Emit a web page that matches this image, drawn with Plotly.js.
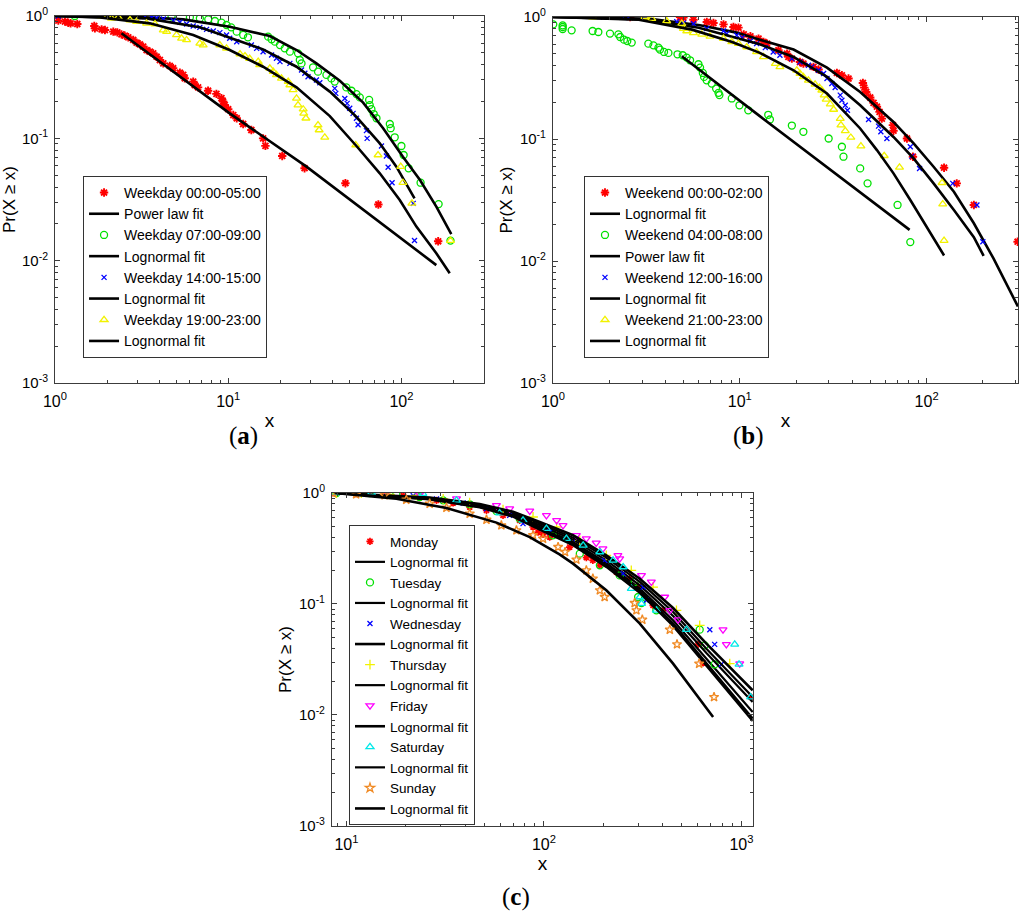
<!DOCTYPE html>
<html>
<head>
<meta charset="utf-8">
<script src="https://cdn.plot.ly/plotly-3.0.1.min.js"></script>
<style>
  html, body { margin: 0; padding: 0; background: #fff; }
  #chart { width: 1024px; height: 915px; }
</style>
</head>
<body>
<div id="chart"></div>
<script>
// Tick labels
const yTickVals = [0.001, 0.01, 0.1, 1];
const yTickText = ['10<sup>-3</sup>', '10<sup>-2</sup>', '10<sup>-1</sup>', '10<sup>0</sup>'];
const xTickValsAB = [1, 10, 100];
const xTickTextAB = ['10<sup>0</sup>', '10<sup>1</sup>', '10<sup>2</sup>'];
const xTickValsC = [10, 100, 1000];
const xTickTextC = ['10<sup>1</sup>', '10<sup>2</sup>', '10<sup>3</sup>'];

// (a) weekday time slots
const wd0005X = [1.045,1.142,1.194,1.231,1.345,1.686,1.70,1.858,1.943,2.17,2.29,2.42,2.53,2.65,2.83,2.96,3.09,3.23,3.38,3.53,3.69,3.86,4.03,4.22,4.60,4.81,5.26,5.50,5.61,6.28,6.41,6.70,7.65,8.55,9.14,9.34,9.55,10.0,10.7,11.2,12.2,13.6,15.9,16.4,20.5,27.6,47.5,73.6,163];
const wd0005Y = [0.916,0.899,0.882,0.871,0.860,0.829,0.793,0.778,0.768,0.745,0.735,0.708,0.691,0.670,0.637,0.605,0.587,0.562,0.527,0.511,0.495,0.465,0.437,0.410,0.391,0.374,0.344,0.330,0.310,0.291,0.273,0.261,0.245,0.231,0.213,0.200,0.1875,0.173,0.155,0.146,0.131,0.117,0.100,0.0868,0.0718,0.057,0.043,0.0288,0.0144];
const wd0005FitX = [2.42, 10.2, 28.3, 159];
const wd0005FitY = [0.722, 0.160, 0.0587, 0.0092];

const wd0709X = [1.30,4.71,6.01,6.86,7.67,8.38,9.15,9.78,10.4,11.2,12.2,13.0,17.0,17.8,18.6,19.9,21.2,22.7,25.3,25.9,26.5,30.9,33.0,36.9,39.4,41.2,48.1,51.5,55.0,57.5,65.1,65.6,67.1,69.2,71.8,85.7,86.7,91.5,100,103,110,129,164,192];
const wd0709Y = [1.0,0.988,0.975,0.957,0.939,0.910,0.882,0.844,0.808,0.745,0.70,0.67,0.678,0.645,0.617,0.579,0.544,0.511,0.495,0.437,0.410,0.381,0.351,0.330,0.309,0.291,0.261,0.245,0.230,0.216,0.206,0.187,0.173,0.158,0.146,0.131,0.121,0.102,0.0866,0.0731,0.0569,0.0434,0.029,0.0146];
const wd0709FitX = [1,2.83,5.50,10.2,17.4,24.8,32.3,44.1,60.1,78.4,102,128,159,194];
const wd0709FitY = [1,0.988,0.939,0.818,0.686,0.527,0.410,0.296,0.196,0.121,0.0708,0.0457,0.0277,0.0165];

const wd1415X = [1.045,3.31,3.61,3.86,4.22,4.82,5.26,5.75,6.28,6.86,7.50,8.20,8.95,9.78,10.2,11.2,13.6,14.6,15.9,17.8,19.0,19.9,22.7,26.5,27.7,28.9,32.3,33.8,41.2,41.8,47.1,48.6,50.3,52.6,55.0,56.2,62.8,63.4,76.7,81.9,83.8,88.3,117,119];
const wd1415Y = [1.0,0.988,0.975,0.963,0.945,0.916,0.888,0.860,0.829,0.808,0.778,0.754,0.731,0.70,0.657,0.617,0.579,0.544,0.511,0.480,0.451,0.424,0.410,0.362,0.340,0.319,0.300,0.285,0.256,0.233,0.212,0.193,0.176,0.160,0.146,0.129,0.1156,0.100,0.0866,0.0718,0.058,0.0434,0.0294,0.0146];
const wd1415FitX = [1,3.38,6.86,10.2,15.9,24.8,38.6,55.0,75.0,93.5,119];
const wd1415FitY = [1,0.957,0.808,0.669,0.534,0.385,0.241,0.150,0.091,0.0587,0.0323];

const wd1923X = [1.86,2.12,2.32,2.71,2.96,3.38,3.78,4.22,4.41,5.03,5.38,5.75,6.86,7.17,8.95,9.78,11.7,12.5,13.3,14.9,15.2,17.4,18.2,19.0,20.3,22.2,22.7,23.7,24.8,25.3,27.1,27.3,28.1,33.0,33.5,36.1,54.5,73.3,99.1,102,115,192];
const wd1923Y = [1.0,0.957,0.975,0.928,0.899,0.871,0.860,0.768,0.745,0.70,0.657,0.637,0.598,0.579,0.579,0.544,0.489,0.471,0.448,0.424,0.398,0.373,0.351,0.330,0.309,0.291,0.273,0.249,0.212,0.187,0.173,0.160,0.146,0.1285,0.117,0.102,0.0882,0.0731,0.0587,0.0434,0.0294,0.0146];
const wd1923FitX = [1,1.82,3.53,6.28,10.2,15.9,24.8,38.6,55.0,75.0,97.8,122,159,190];
const wd1923FitY = [1,0.975,0.871,0.70,0.527,0.385,0.261,0.152,0.0866,0.0518,0.0313,0.019,0.0115,0.00788];

// (b) weekend time slots
const we0002X = [2.59,4.79,4.99,5.65,6.66,7.23,8.18,9.25,9.84,10.5,11.4,12.6,13.4,14.0,16.1,17.9,18.2,19.0,21.0,21.9,24.8,26.4,33.1,35.2,38.2,45.6,46.4,47.5,49.9,52.0,54.2,56.0,57.6,66.0,66.5,78.5,84.5,124,145,179,307];
const we0002Y = [1.0,1.0,0.988,0.951,0.910,0.893,0.871,0.828,0.818,0.721,0.695,0.665,0.625,0.605,0.534,0.501,0.471,0.456,0.428,0.415,0.390,0.371,0.348,0.333,0.313,0.288,0.264,0.243,0.219,0.198,0.184,0.167,0.147,0.130,0.117,0.101,0.0716,0.0582,0.0433,0.0288,0.0144];
const we0002FitX = [1,3.31,6.13,9.63,12.8,19.4,29.3,44.1,66.5,85.2,109,140,179,228,308];
const we0002FitY = [1,0.969,0.855,0.745,0.652,0.541,0.385,0.243,0.138,0.092,0.0593,0.037,0.0204,0.0105,0.00424];

const we0408X = [1.004,1.127,1.127,1.127,1.259,1.63,1.75,2.02,2.24,2.29,2.40,2.50,2.64,3.24,3.45,3.67,3.74,3.93,4.15,4.64,4.95,5.20,5.42,6.01,6.13,6.34,6.44,6.65,7.08,7.47,7.69,7.78,9.06,9.96,11.1,14.2,14.5,19.0,21.9,29.9,35.2,35.9,44.1,48.3,69.9,81.8];
const we0408Y = [0.871,0.855,0.828,0.798,0.778,0.768,0.754,0.731,0.721,0.686,0.652,0.636,0.617,0.605,0.586,0.561,0.541,0.517,0.508,0.495,0.486,0.465,0.442,0.410,0.385,0.348,0.323,0.303,0.285,0.259,0.239,0.229,0.215,0.189,0.172,0.158,0.1445,0.129,0.1146,0.101,0.0864,0.0716,0.0574,0.0433,0.0288,0.0143];
const we0408FitX = [4.89, 12.8, 81.1];
const we0408FitY = [0.477, 0.154, 0.0180];

const we1216X = [1.86,2.38,2.53,4.60,4.99,5.65,6.66,8.18,8.52,9.63,10.3,11.4,12.3,13.7,15.1,16.4,19.0,21.0,23.3,24.3,26.4,28.1,29.3,31.1,32.4,34.5,35.2,36.7,37.7,48.9,55.3,56.9,61.3,81.8,83.4,91.7,138,186,200];
const we1216Y = [1.0,1.0,0.988,0.916,0.893,0.882,0.803,0.768,0.731,0.708,0.678,0.636,0.605,0.561,0.517,0.486,0.456,0.428,0.402,0.390,0.366,0.344,0.313,0.285,0.264,0.229,0.208,0.189,0.172,0.1445,0.1275,0.1146,0.101,0.0864,0.0724,0.0574,0.0433,0.0288,0.0144];
const we1216FitX = [1,3.12,6.03,9.63,12.8,19.4,29.3,44.1,66.5,85.2,109,140,179,202];
const we1216FitY = [1,0.957,0.818,0.678,0.598,0.471,0.323,0.189,0.104,0.0693,0.0433,0.0262,0.0157,0.011];

const we2123X = [1.63,3.11,3.38,4.06,4.89,4.99,5.20,5.65,6.26,6.93,8.18,9.06,9.84,10.9,12.3,13.4,15.5,16.4,20.2,21.0,21.9,23.3,25.3,26.7,27.5,28.3,29.0,30.5,31.8,34.5,34.8,36.7,39.3,44.5,59.3,71.6,121,122,124];
const we2123Y = [1.0,1.0,0.969,0.928,0.882,0.803,0.768,0.740,0.721,0.695,0.665,0.625,0.605,0.568,0.517,0.471,0.415,0.390,0.366,0.344,0.323,0.303,0.281,0.264,0.251,0.229,0.211,0.193,0.1746,0.147,0.130,0.1168,0.103,0.0875,0.0729,0.0586,0.0438,0.0293,0.0147];
const we2123FitX = [1,2.88,5.55,9.10,12.8,19.4,29.3,44.1,54.2,66.5,81.8,100,124];
const we2123FitY = [1,0.951,0.788,0.625,0.508,0.366,0.236,0.122,0.0811,0.0523,0.0316,0.0191,0.0111];

// (c) days of the week
const monX = [8.56,11.2,15.6,19.4,23.5,28.6,34.7,42.1,51.2,62.1,75.4,88.1,93.4,99.0,107,135,164,177,192,233,272,300,357,401,603,640,1120];
const monY = [1.0,0.986,0.973,0.946,0.908,0.859,0.813,0.748,0.698,0.629,0.567,0.494,0.445,0.424,0.401,0.326,0.2615,0.247,0.223,0.194,0.169,0.144,0.0973,0.0877,0.0433,0.0294,0.0145];
const tueX = [8.90,13.1,17.9,23.5,30.9,42.1,57.5,75.4,111,152,192,242,288,300,312,371,615,652,732];
const tueY = [1.0,1.0,0.973,0.920,0.859,0.791,0.689,0.587,0.416,0.284,0.223,0.181,0.158,0.1156,0.102,0.0877,0.0587,0.0424,0.0286];
const wedX = [11.2,15.9,21.8,28.6,39.0,51.2,67.1,78.4,107,146,203,252,318,330,692,732,792];
const wedY = [1.0,0.986,0.946,0.883,0.813,0.722,0.629,0.530,0.445,0.388,0.247,0.1876,0.142,0.108,0.0587,0.0433,0.0286];
const thuX = [8.90,11.9,16.6,22.6,30.9,42.1,62.1,88.1,116,152,207,277,357,469,615,873];
const thuY = [1.0,1.0,0.973,0.953,0.883,0.818,0.708,0.608,0.494,0.375,0.274,0.201,0.142,0.0877,0.0643,0.029];
const friX = [15.9,23.5,36.1,57.5,67.1,84.8,103,116,125,146,164,184,199,237,242,312,350,409,434,478,807,839,981];
const friY = [1.0,0.973,0.889,0.774,0.722,0.689,0.629,0.567,0.511,0.416,0.388,0.355,0.315,0.274,0.256,0.181,0.158,0.1156,0.0877,0.0722,0.0587,0.0433,0.029];
const satX = [8.73,13.4,24.4,36.1,59.7,78.4,103,130,158,192,224,252,277,306,312,371,527,925,973,1114];
const satY = [1.0,1.0,0.986,0.859,0.66,0.567,0.477,0.388,0.338,0.294,0.247,0.2155,0.1374,0.1156,0.1007,0.0877,0.0587,0.0433,0.0286,0.0145];
const sunX = [8.56,11.2,15.6,20.1,26.4,32.1,42.1,51.2,60.9,72.6,88.1,99.0,118,128,146,164,177,192,203,288,294,315,434,472,611,727];
const sunY = [1.0,0.973,0.953,0.871,0.801,0.738,0.651,0.575,0.511,0.461,0.416,0.388,0.326,0.294,0.251,0.201,0.169,0.1328,0.1156,0.102,0.0877,0.0722,0.0587,0.0433,0.029,0.0145];

const dayFitX = [8.73,26.4,47.3,69.8,95.3,140.5,207,306,451,665,1140];
const monFitY = [1.0,0.889,0.763,0.638,0.494,0.362,0.234,0.1374,0.0713,0.0322,0.01065];
const tueFitY = [1.0,0.895,0.774,0.651,0.511,0.380,0.247,0.147,0.078,0.0362,0.0131];
const wedFitY = [1.0,0.883,0.753,0.625,0.481,0.350,0.223,0.131,0.0665,0.0294,0.00927];
const thuFitY = [1.0,0.901,0.785,0.665,0.530,0.396,0.2615,0.158,0.0847,0.0396,0.0145];
const friFitY = [1.0,0.908,0.796,0.679,0.548,0.416,0.274,0.169,0.092,0.044,0.0167];
const satFitY = [1.0,0.877,0.743,0.612,0.467,0.338,0.2155,0.1256,0.0634,0.028,0.00883];
const sunFitX = [8.73,17.9,32.1,57.5,84.8,120,140.5,207,306,451,719];
const sunFitY = [1.0,0.889,0.732,0.541,0.401,0.280,0.231,0.1328,0.0665,0.029,0.0096];

// Build a marker trace
function pts(name, x, y, symbol, color, size, ax, leg, lw) {
    return {
        type: 'scatter', mode: 'markers', name: name, x: x, y: y,
        xaxis: ax[0], yaxis: ax[1], legend: leg,
        marker: { symbol: symbol, size: size, color: color, line: { color: color, width: lw || 1.3 } }
    };
}

// Build a black fit line trace
function fit(name, x, y, ax, leg, width) {
    return {
        type: 'scatter', mode: 'lines', name: name, x: x, y: y,
        xaxis: ax[0], yaxis: ax[1], legend: leg,
        line: { color: '#000', width: width || 2.6 }
    };
}

const A = ['x', 'y'], B = ['x2', 'y2'], C = ['x3', 'y3'];
const RED = '#ff0000', GREEN = '#00e000', BLUE = '#0000ff', YELLOW = '#f2f200';
const MAGENTA = '#ff00ff', CYAN = '#00e8e8', ORANGE = '#f08a24';

const traces = [
    pts('Weekday 00:00-05:00', wd0005X, wd0005Y, 'asterisk-open', RED, 7, A, 'legend', 1.9),
    fit('Power law fit', wd0005FitX, wd0005FitY, A, 'legend'),
    pts('Weekday 07:00-09:00', wd0709X, wd0709Y, 'circle-open', GREEN, 7, A, 'legend'),
    fit('Lognormal fit', wd0709FitX, wd0709FitY, A, 'legend'),
    pts('Weekday 14:00-15:00', wd1415X, wd1415Y, 'x-thin-open', BLUE, 5, A, 'legend'),
    fit('Lognormal fit', wd1415FitX, wd1415FitY, A, 'legend'),
    pts('Weekday 19:00-23:00', wd1923X, wd1923Y, 'triangle-up-open', YELLOW, 7, A, 'legend'),
    fit('Lognormal fit', wd1923FitX, wd1923FitY, A, 'legend'),

    pts('Weekend 00:00-02:00', we0002X, we0002Y, 'asterisk-open', RED, 7, B, 'legend2', 1.9),
    fit('Lognormal fit', we0002FitX, we0002FitY, B, 'legend2'),
    pts('Weekend 04:00-08:00', we0408X, we0408Y, 'circle-open', GREEN, 7, B, 'legend2'),
    fit('Power law fit', we0408FitX, we0408FitY, B, 'legend2'),
    pts('Weekend 12:00-16:00', we1216X, we1216Y, 'x-thin-open', BLUE, 5, B, 'legend2'),
    fit('Lognormal fit', we1216FitX, we1216FitY, B, 'legend2'),
    pts('Weekend 21:00-23:00', we2123X, we2123Y, 'triangle-up-open', YELLOW, 7, B, 'legend2'),
    fit('Lognormal fit', we2123FitX, we2123FitY, B, 'legend2'),

    pts('Monday', monX, monY, 'asterisk-open', RED, 6, C, 'legend3', 1.7),
    fit('Lognormal fit', dayFitX, monFitY, C, 'legend3', 2.2),
    pts('Tuesday', tueX, tueY, 'circle-open', GREEN, 7, C, 'legend3'),
    fit('Lognormal fit', dayFitX, tueFitY, C, 'legend3', 2.2),
    pts('Wednesday', wedX, wedY, 'x-thin-open', BLUE, 5, C, 'legend3'),
    fit('Lognormal fit', dayFitX, wedFitY, C, 'legend3', 2.6),
    pts('Thursday', thuX, thuY, 'cross-thin-open', YELLOW, 7, C, 'legend3'),
    fit('Lognormal fit', dayFitX, thuFitY, C, 'legend3', 2.2),
    pts('Friday', friX, friY, 'triangle-down-open', MAGENTA, 7, C, 'legend3'),
    fit('Lognormal fit', dayFitX, friFitY, C, 'legend3', 2.6),
    pts('Saturday', satX, satY, 'triangle-up-open', CYAN, 7, C, 'legend3'),
    fit('Lognormal fit', dayFitX, satFitY, C, 'legend3', 2.2),
    pts('Sunday', sunX, sunY, 'star-open', ORANGE, 7, C, 'legend3'),
    fit('Lognormal fit', sunFitX, sunFitY, C, 'legend3', 2.6)
];

const FONT = 'Liberation Sans, Arial, sans-serif';
const FRAME = '#3c3c3c';

function xAxis(domain, range, vals, text, anchor) {
    return {
        type: 'log', domain: domain, range: range, anchor: anchor,
        tickmode: 'array', tickvals: vals, ticktext: text,
        ticks: 'inside', ticklen: 5, tickcolor: FRAME,
        minor: { dtick: 'D1', ticks: 'inside', ticklen: 3, tickcolor: FRAME },
        showline: true, linecolor: FRAME, linewidth: 1, mirror: 'ticks',
        showgrid: false, zeroline: false, ticklabelstandoff: 4,
        tickfont: { family: FONT, size: 16, color: '#000' },
        title: { text: 'x', font: { family: FONT, size: 19, color: '#000' }, standoff: 4 }
    };
}
function yAxis(domain, anchor) {
    return {
        type: 'log', domain: domain, range: [-3, 0], anchor: anchor,
        tickmode: 'array', tickvals: yTickVals, ticktext: yTickText,
        ticks: 'inside', ticklen: 5, tickcolor: FRAME,
        minor: { dtick: 'D1', ticks: 'inside', ticklen: 3, tickcolor: FRAME },
        showline: true, linecolor: FRAME, linewidth: 1, mirror: 'ticks',
        showgrid: false, zeroline: false, ticklabelstandoff: 3,
        tickfont: { family: FONT, size: 15, color: '#000' },
        title: { text: 'Pr(X \u2265 x)', font: { family: FONT, size: 17, color: '#000' }, standoff: 2 }
    };
}
function legendBox(x, y, size) {
    return {
        x: x, y: y, xanchor: 'left', yanchor: 'top',
        bgcolor: '#fff', bordercolor: '#333', borderwidth: 1,
        font: { family: FONT, size: size, color: '#000' },
        tracegroupgap: 0
    };
}

const layout = {
    width: 1024, height: 915,
    margin: { l: 0, r: 0, t: 0, b: 0 },
    paper_bgcolor: '#fff', plot_bgcolor: '#fff',
    showlegend: true,
    xaxis: xAxis([0.0537, 0.4727], [0, 2.477], xTickValsAB, xTickTextAB, 'y'),
    yaxis: yAxis([0.5814, 0.9825], 'x'),
    xaxis2: xAxis([0.540, 0.9941], [0, 2.489], xTickValsAB, xTickTextAB, 'y2'),
    yaxis2: yAxis([0.5814, 0.9814], 'x2'),
    xaxis3: xAxis([0.3242, 0.7354], [0.927, 3.059], xTickValsC, xTickTextC, 'y3'),
    yaxis3: yAxis([0.0973, 0.4612], 'x3'),
    legend: legendBox(0.0811, 0.8077, 14),
    legend2: legendBox(0.5703, 0.8077, 14),
    legend3: legendBox(0.3408, 0.4262, 13.5),
    annotations: [
        { text: '(<b>a</b>)', x: 243 / 1024, y: 1 - 436 / 915 },
        { text: '(<b>b</b>)', x: 748 / 1024, y: 1 - 436 / 915 },
        { text: '(<b>c</b>)', x: 516 / 1024, y: 1 - 897 / 915 }
    ].map(a => Object.assign(a, {
        xref: 'paper', yref: 'paper', showarrow: false,
        xanchor: 'center', yanchor: 'middle',
        font: { family: 'Liberation Serif, Times New Roman, serif', size: 25, color: '#000' }
    }))
};

Plotly.newPlot('chart', traces, layout, { staticPlot: true });
</script>
</body>
</html>
